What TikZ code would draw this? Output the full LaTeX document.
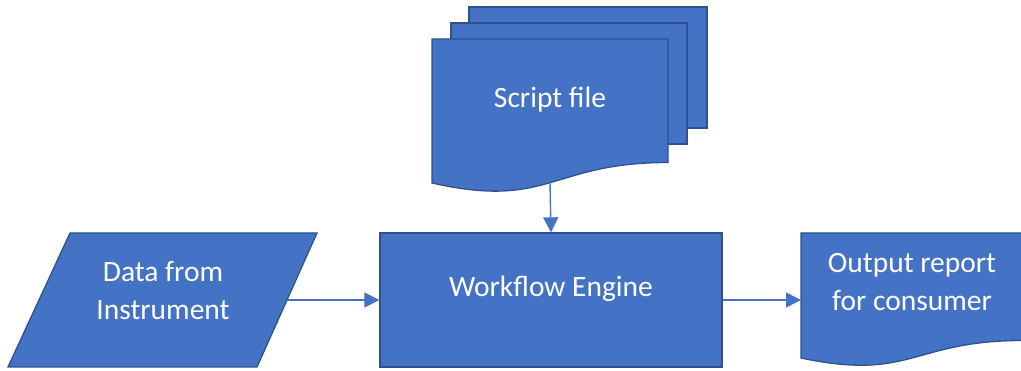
\documentclass[tikz,border=0pt]{standalone}
\usepackage{fontspec}
\setmainfont{Carlito}
\usetikzlibrary{arrows.meta}
\definecolor{boxfill}{HTML}{4472C4}
\definecolor{boxline}{HTML}{2F528F}
\tikzset{
  shapebox/.style={fill=boxfill, draw=boxline, line width=1.3pt, line join=miter},
  boxtext/.style={text=white, font=\fontsize{29.5}{38}\selectfont, align=center, inner sep=0pt},
  flow/.style={draw=boxfill, line width=1.4pt, -{Triangle[length=15pt,width=15pt]}}
}
\begin{document}
\begin{tikzpicture}[x=1pt,y=-1pt]
\useasboundingbox (0,0) rectangle (1021,371);

% stacked script sheets
\draw[shapebox] (469,7) rectangle (707,128);
\draw[shapebox] (451,23) rectangle (687,144);
\draw[shapebox] (432,39) -- (668,39) -- (668,162.5)
  .. controls (550,162.5) and (550,209.6) .. (432,183) -- cycle;
\node[boxtext] (script) at (550,100) {Script file};
\coordinate (script-out) at (550,182.7);

% input data parallelogram
\draw[shapebox] (70,233) -- (317,233) -- (257,367) -- (8,367) -- cycle;
\node[boxtext] (data) at (163,290) {Data from\\Instrument};
\coordinate (data-out) at (287,300);

% engine
\node[shapebox, rectangle, minimum width=342pt, minimum height=134pt, inner sep=0pt]
  (engine) at (551,300) {};
\node[boxtext] (engine-text) at (551,289) {Workflow Engine};

% output report document
\draw[shapebox] (801,233) -- (1023,233) -- (1023,340.5)
  .. controls (912,340.5) and (912,381.4) .. (801,358) -- cycle;
\node[boxtext] (output) at (912,282) {Output report\\for consumer};
\coordinate (output-in) at (801,300);

% connectors
\draw[flow] (script-out) -- (engine.north);
\draw[flow] (data-out) -- (engine.west);
\draw[flow] (engine.east) -- (output-in);
\end{tikzpicture}
\end{document}
